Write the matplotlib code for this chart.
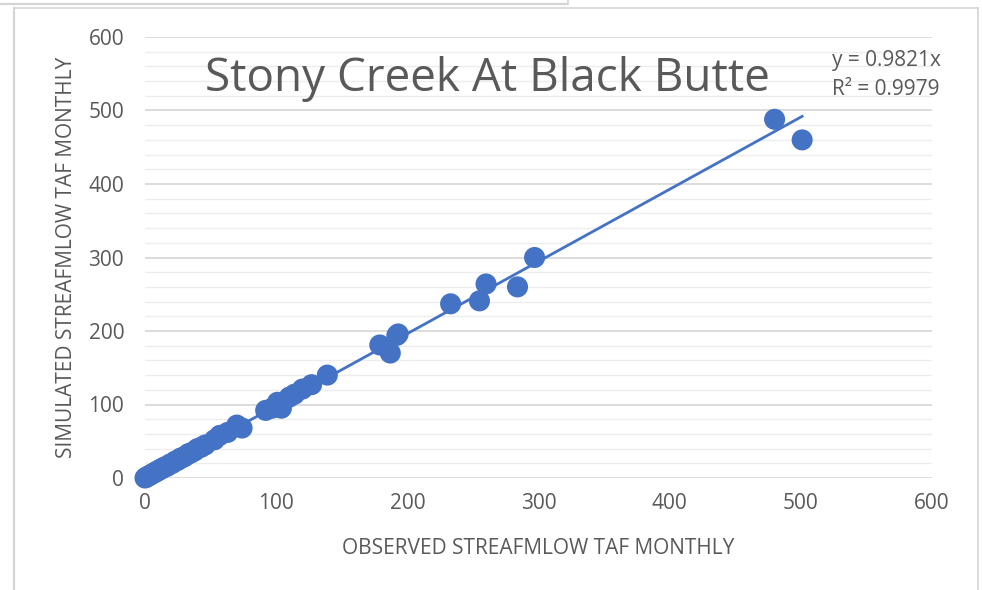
import numpy as np
import matplotlib
matplotlib.use("Agg")
import matplotlib.pyplot as plt
from matplotlib.lines import Line2D
from matplotlib.ticker import MultipleLocator

# Monthly streamflow, thousand acre-feet
observed = [0, 1, 2, 3, 4, 5, 6, 7, 8, 9, 10, 11, 12, 13, 14, 15, 17, 19, 21, 23,
            25, 27, 29, 31, 33, 35, 38, 40, 43, 46, 53, 57, 63, 70, 74, 92, 97,
            101, 104, 110, 114, 120, 127, 139, 179, 187, 192, 193, 233, 255, 260,
            284, 297, 480, 501]
simulated = [0, 1, 2, 3, 4, 5, 6, 7, 8, 9, 10, 11, 12, 13, 14, 15, 16, 19, 20, 23,
             24, 27, 28, 30, 33, 34, 37, 40, 42, 45, 52, 58, 62, 72, 68, 92, 95,
             103, 95, 110, 114, 121, 127, 140, 181, 170, 194, 196, 237, 241, 264,
             260, 300, 488, 460]

# Linear trendline through the origin
slope = 0.9821
r_squared = 0.9979

title = "Stony Creek At Black Butte"
x_label = "OBSERVED STREAFMLOW TAF MONTHLY"
y_label = "SIMULATED STREAFMLOW TAF MONTHLY"

blue = "#4472C4"
text_grey = "#595959"
font = "Open Sans"

fig = plt.figure(figsize=(9.82, 5.9), dpi=100)
fig.patch.set_facecolor("white")

# chart frame
frame = "#d4d4d4"
fig.add_artist(Line2D([0, 567 / 982], [1 - 4 / 590] * 2, color=frame, lw=1.6,
                      transform=fig.transFigure))
fig.add_artist(Line2D([568 / 982] * 2, [1, 1 - 4 / 590], color=frame, lw=1.2,
                      transform=fig.transFigure))
fig.add_artist(Line2D([14 / 982, 978 / 982], [1 - 8 / 590] * 2, color=frame, lw=1.2,
                      transform=fig.transFigure))
fig.add_artist(Line2D([14 / 982] * 2, [0, 1 - 8 / 590], color=frame, lw=1.6,
                      transform=fig.transFigure))
fig.add_artist(Line2D([978 / 982] * 2, [0, 1 - 8 / 590], color=frame, lw=1.2,
                      transform=fig.transFigure))

ax = fig.add_axes([145 / 982, 1 - 478 / 590, 787 / 982, 441 / 590])
ax.set_xlim(0, 600)
ax.set_ylim(0, 600)
for sp in ax.spines.values():
    sp.set_visible(False)

ax.yaxis.set_major_locator(MultipleLocator(100))
ax.yaxis.set_minor_locator(MultipleLocator(20))
ax.xaxis.set_major_locator(MultipleLocator(100))
ax.grid(axis="y", which="major", color="#d9d9d9", lw=1.3)
ax.grid(axis="y", which="minor", color="#ededed", lw=1.0)
ax.set_axisbelow(True)
ax.tick_params(which="both", length=0)
ax.tick_params(axis="y", pad=15, labelsize=15, labelcolor=text_grey)
ax.tick_params(axis="x", pad=11, labelsize=15, labelcolor=text_grey)
for lab in ax.get_xticklabels() + ax.get_yticklabels():
    lab.set_family(font)

ax.scatter(observed, simulated, s=230, color=blue, edgecolors="none", zorder=3,
           clip_on=False)
xs = np.array([0, max(observed)])
ax.plot(xs, slope * xs, color=blue, lw=2.0, zorder=4)

ax.set_xlabel(x_label, family=font, fontsize=15, color=text_grey, labelpad=17)
ax.set_ylabel(y_label, family=font, fontsize=15, color=text_grey, labelpad=8)

fig.text(487 / 982, 1 - 79 / 590, title, family=font,
         fontsize=33, color=text_grey, ha="center", va="center")
fig.text(886 / 982, 1 - 75 / 590, f"y = {slope:.4f}x\nR² = {r_squared:.4f}",
         family=font, fontsize=15, color=text_grey, ha="center", va="center",
         linespacing=1.45)

fig.savefig("out.png", dpi=100, facecolor="white")
